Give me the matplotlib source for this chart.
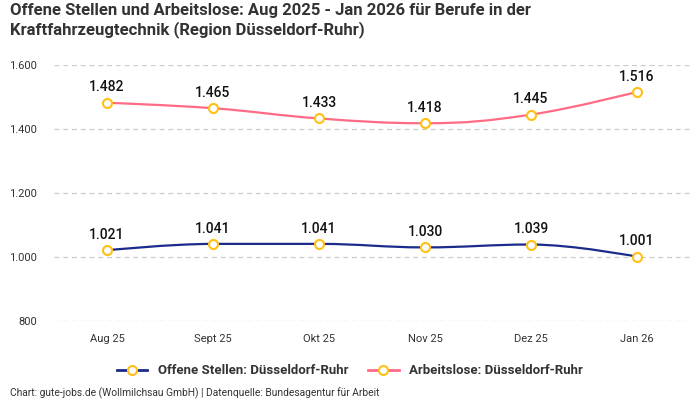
import matplotlib
matplotlib.use("Agg")
import matplotlib.pyplot as plt
from matplotlib.path import Path
from matplotlib.patches import PathPatch
from matplotlib.lines import Line2D

months = ["Aug 25", "Sept 25", "Okt 25", "Nov 25", "Dez 25", "Jan 26"]
offene_stellen = [1021, 1041, 1041, 1030, 1039, 1001]
arbeitslose = [1482, 1465, 1433, 1418, 1445, 1516]
y_ticks = [800, 1000, 1200, 1400, 1600]

navy = "#1b2b8c"
pink = "#ff6b85"
marker_edge = "#ffc117"

plt.rcParams["font.family"] = ["Roboto", "DejaVu Sans"]


def fmt(v):
    return f"{v:,}".replace(",", ".")


def spline_path(xs, ys, smoothing=1.5):
    # Bezier path through the points, same idea as Highcharts' spline
    n = len(xs)
    left = [None] * n
    right = [None] * n
    for i in range(1, n - 1):
        x, y = xs[i], ys[i]
        lx, ly = xs[i - 1], ys[i - 1]
        nx, ny = xs[i + 1], ys[i + 1]
        d = smoothing + 1
        lcx, lcy = (smoothing * x + lx) / d, (smoothing * y + ly) / d
        rcx, rcy = (smoothing * x + nx) / d, (smoothing * y + ny) / d
        corr = (rcy - lcy) * (rcx - x) / (rcx - lcx) + y - rcy
        lcy += corr
        rcy += corr
        if lcy > max(ly, y):
            lcy = max(ly, y)
            rcy = 2 * y - lcy
        elif lcy < min(ly, y):
            lcy = min(ly, y)
            rcy = 2 * y - lcy
        if rcy > max(ny, y):
            rcy = max(ny, y)
            lcy = 2 * y - rcy
        elif rcy < min(ny, y):
            rcy = min(ny, y)
            lcy = 2 * y - rcy
        left[i] = (lcx, lcy)
        right[i] = (rcx, rcy)
    verts = [(xs[0], ys[0])]
    codes = [Path.MOVETO]
    for i in range(1, n):
        c1 = right[i - 1] or (xs[i - 1], ys[i - 1])
        c2 = left[i] or (xs[i], ys[i])
        verts += [c1, c2, (xs[i], ys[i])]
        codes += [Path.CURVE4] * 3
    return Path(verts, codes)


fig = plt.figure(figsize=(7, 4), dpi=100)
ax = fig.add_axes([54 / 700, 1 - 321 / 400, 636 / 700, 256 / 400])

x = list(range(len(months)))
for series, color in [(offene_stellen, navy), (arbeitslose, pink)]:
    ax.add_patch(PathPatch(spline_path(x, series), facecolor="none",
                           edgecolor=color, lw=1.6, zorder=3))
    ax.plot(x, series, ls="none", marker="o", ms=6.5, mfc="white",
            mec=marker_edge, mew=1.5, zorder=4)
    for xi, v in zip(x, series):
        ax.annotate(fmt(v), (xi, v), xytext=(0, 6), textcoords="offset points",
                    ha="center", va="bottom", fontsize=10, fontweight="medium",
                    color="#111111", zorder=5)

ax.set_xlim(-0.5, len(months) - 0.5)
ax.set_ylim(800, 1600)
ax.set_yticks(y_ticks)
ax.set_yticklabels([fmt(v) for v in y_ticks])
ax.set_xticks(x)
ax.set_xticklabels(months)
ax.tick_params(length=0, labelsize=8, colors="#333333")
ax.tick_params(axis="x", pad=9)
ax.tick_params(axis="y", pad=12)
ax.grid(axis="y", color="#cccccc", ls=(0, (4, 3)), lw=0.9)
for s in ax.spines.values():
    s.set_visible(False)

fig.text(10 / 700, 1 - 3 / 400,
         "Offene Stellen und Arbeitslose: Aug 2025 - Jan 2026 für Berufe in der\n"
         "Kraftfahrzeugtechnik (Region Düsseldorf-Ruhr)",
         ha="left", va="top", fontsize=12, fontweight="bold",
         color="#333333", linespacing=1.2)

handles = [
    Line2D([], [], color=navy, lw=2, marker="o", ms=6.5, mfc="white",
           mec=marker_edge, mew=1.5),
    Line2D([], [], color=pink, lw=2, marker="o", ms=6.5, mfc="white",
           mec=marker_edge, mew=1.5),
]
leg = fig.legend(handles, ["Offene Stellen: Düsseldorf-Ruhr", "Arbeitslose: Düsseldorf-Ruhr"],
                 loc="center", bbox_to_anchor=(0.5, 1 - 371 / 400), ncol=2,
                 frameon=False, handlelength=2.3, columnspacing=1.5,
                 prop={"weight": "bold", "size": 9.5})
for t in leg.get_texts():
    t.set_color("#333333")

fig.text(10 / 700, 1 - 393 / 400,
         "Chart: gute-jobs.de (Wollmilchsau GmbH) | Datenquelle: Bundesagentur für Arbeit",
         ha="left", va="center", fontsize=7.4, color="#333333")

fig.savefig("out.png", dpi=100)
